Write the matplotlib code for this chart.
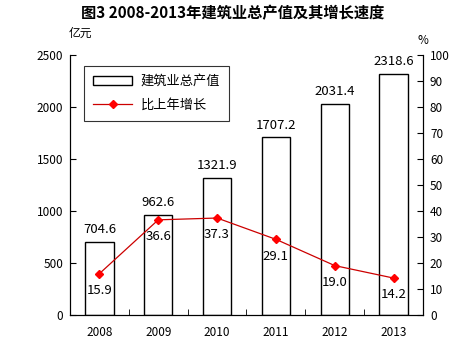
import matplotlib.pyplot as plt
import numpy as np

plt.rcParams['font.family'] = ['Noto Sans CJK SC', 'DejaVu Sans']

years = ['2008', '2009', '2010', '2011', '2012', '2013']
output = [704.6, 962.6, 1321.9, 1707.2, 2031.4, 2318.6]
growth = [15.9, 36.6, 37.3, 29.1, 19.0, 14.2]

fig = plt.figure(figsize=(4.65, 3.55), dpi=100)
ax = fig.add_axes([0.1505, 0.1127, 0.7592, 0.7323])
x = np.arange(len(years))

ax.bar(x, output, width=0.48, color='white', edgecolor='black', linewidth=1,
       label='建筑业总产值', zorder=2)
for xi, v in zip(x, output):
    ax.text(xi, v + 55, f'{v:.1f}', ha='center', va='bottom', fontsize=9.5)

ax.set_xlim(-0.5, len(years) - 0.5)
ax.set_ylim(0, 2500)
ax.set_yticks(range(0, 2501, 500))
ax.set_xticks(x)
ax.set_xticklabels(years)
ax.set_xticks(np.arange(-0.5, len(years)), minor=True)
ax.tick_params(axis='x', which='major', length=0, pad=8, labelsize=8.5)
ax.tick_params(axis='x', which='minor', direction='in', length=4)
ax.tick_params(axis='y', direction='in', length=4, labelsize=8.5, pad=5)
ax.spines['top'].set_visible(False)
ax.text(-0.005, 1.06, '亿元', transform=ax.transAxes, ha='left', va='bottom', fontsize=8.5)

ax2 = ax.twinx()
ln, = ax2.plot(x, growth, color='#cc0000', linewidth=0.9, marker='D', markersize=4.5,
               markerfacecolor='red', markeredgecolor='red', label='比上年增长', zorder=3)
for xi, v in zip(x, growth):
    ax2.text(xi, v - 4, f'{v:.1f}', ha='center', va='top', fontsize=9.5)
ax2.set_ylim(0, 100)
ax2.set_yticks(range(0, 101, 10))
ax2.tick_params(axis='y', direction='in', length=4, labelsize=8.5, pad=5)
ax2.spines['top'].set_visible(False)
ax2.text(0.985, 1.03, '%', transform=ax.transAxes, ha='left', va='bottom', fontsize=8.5)

h1, l1 = ax.get_legend_handles_labels()
leg = ax.legend(h1 + [ln], l1 + ['比上年增长'], loc='upper left',
                bbox_to_anchor=(0.02, 0.985), fontsize=9.5, frameon=True,
                fancybox=False, edgecolor='black', handlelength=3,
                borderpad=0.7, labelspacing=0.8, handletextpad=0.6)
leg.get_frame().set_linewidth(0.8)

fig.suptitle('图3 2008-2013年建筑业总产值及其增长速度', fontsize=11, fontweight='bold', y=0.985)

fig.savefig('out.png', dpi=100)
